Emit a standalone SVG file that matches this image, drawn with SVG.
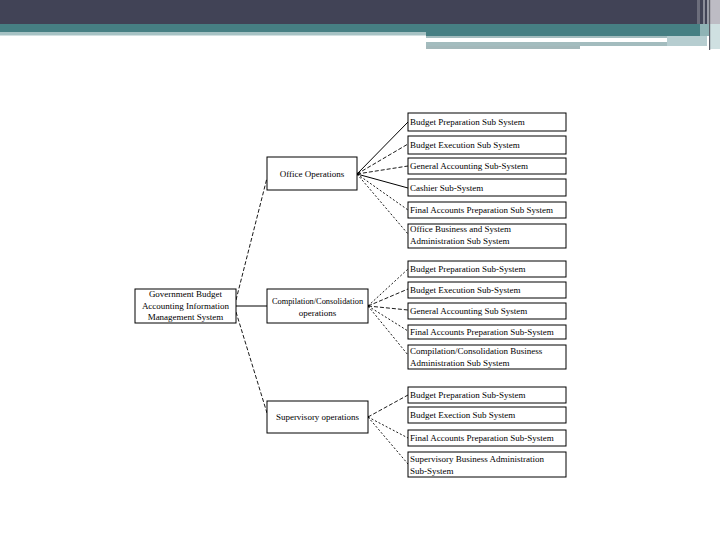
<svg xmlns="http://www.w3.org/2000/svg" width="720" height="540" viewBox="0 0 720 540">
<style>
.box{fill:#ffffff;stroke:#000000;stroke-width:1}
.t{font-family:"Liberation Serif","Times New Roman",serif;font-size:9px;fill:#000000}
.tc{font-family:"Liberation Serif","Times New Roman",serif;font-size:9px;fill:#000000;text-anchor:middle}
.solid{stroke:#000000;stroke-width:1;fill:none}
.dash{stroke:#000000;stroke-width:0.9;fill:none;stroke-dasharray:4,2}
.dot{stroke:#000000;stroke-width:0.9;fill:none;stroke-dasharray:2,2}
</style>
<rect x="0" y="0" width="720" height="540" fill="#ffffff"/>
<g id="header">
<rect x="0" y="0" width="720" height="24" fill="#414356"/>
<rect x="0" y="24" width="720" height="8" fill="#467f83"/>
<rect x="0" y="32" width="426" height="3.5" fill="#a6c2c4"/>
<rect x="426" y="32" width="294" height="4" fill="#467f83"/>
<rect x="426" y="36" width="281" height="10" fill="#a3bcbe"/>
<rect x="426" y="38" width="241" height="4" fill="#ffffff"/>
<rect x="426" y="46" width="154" height="3" fill="#a3b8ba"/>
<rect x="667" y="36" width="40" height="10" fill="#b6cdd0"/>
<rect x="697" y="0" width="3" height="24" fill="#6c6e7c"/>
<rect x="703" y="0" width="2" height="24" fill="#8a8c98"/>
<rect x="707" y="0" width="2" height="24" fill="#9a9ca6"/>
<rect x="710" y="0" width="10" height="24" fill="#bdbcc4"/>
<rect x="700" y="24" width="10" height="12" fill="#8fb3b5"/>
<rect x="710" y="24" width="10" height="25" fill="#cfe0e1"/>
<rect x="709" y="0" width="1.2" height="50" fill="#5a5c66"/>
</g>
<g id="connectors">
<line class="solid" x1="236" y1="306" x2="267" y2="306"/>
<line class="dash" x1="236" y1="300" x2="267" y2="178"/>
<line class="dash" x1="236" y1="312" x2="267" y2="413"/>
<line class="solid" x1="357" y1="174" x2="408" y2="122"/>
<line class="dash" x1="357" y1="174" x2="408" y2="144"/>
<line class="dash" x1="357" y1="174" x2="408" y2="166"/>
<line class="solid" x1="357" y1="174" x2="408" y2="188"/>
<line class="dot" x1="357" y1="174" x2="408" y2="210"/>
<line class="dot" x1="357" y1="174" x2="408" y2="234"/>
<circle cx="357" cy="174" r="1.5" fill="#000000"/>
<line class="dot" x1="368" y1="306" x2="408" y2="269"/>
<line class="dash" x1="368" y1="306" x2="408" y2="289"/>
<line class="dash" x1="368" y1="306" x2="408" y2="310"/>
<line class="dot" x1="368" y1="306" x2="408" y2="331"/>
<line class="dot" x1="368" y1="306" x2="408" y2="355"/>
<circle cx="368" cy="306" r="1.5" fill="#000000"/>
<line class="dash" x1="368" y1="417" x2="408" y2="395"/>
<line class="dot" x1="368" y1="417" x2="408" y2="438"/>
<line class="dot" x1="368" y1="417" x2="408" y2="464"/>
<circle cx="368" cy="417" r="1.2" fill="#000000"/>
</g>
<g id="root">
<rect class="box" x="135" y="289" width="101" height="34"/>
<text class="tc" x="185.5" y="297">Government Budget</text>
<text class="tc" x="185.5" y="309">Accounting Information</text>
<text class="tc" x="185.5" y="320">Management System</text>
</g>
<g id="office">
<rect class="box" x="267" y="157" width="90" height="33"/>
<text class="tc" x="312" y="177">Office Operations</text>
</g>
<g id="compilation">
<rect class="box" x="267" y="289" width="101" height="34"/>
<text class="tc" x="317.5" y="304" style="font-size:8.4px">Compilation/Consolidation</text>
<text class="tc" x="317.5" y="316">operations</text>
</g>
<g id="supervisory">
<rect class="box" x="267" y="401" width="101" height="32"/>
<text class="tc" x="317.5" y="420">Supervisory operations</text>
</g>
<g id="o1"><rect class="box" x="408" y="113" width="158" height="18"/><text class="t" x="410" y="125">Budget Preparation Sub System</text></g>
<g id="o2"><rect class="box" x="408" y="136" width="158" height="18"/><text class="t" x="410" y="148">Budget Execution Sub System</text></g>
<g id="o3"><rect class="box" x="408" y="158" width="158" height="16"/><text class="t" x="410" y="169">General Accounting Sub-System</text></g>
<g id="o4"><rect class="box" x="408" y="179" width="158" height="17"/><text class="t" x="410" y="191">Cashier Sub-System</text></g>
<g id="o5"><rect class="box" x="408" y="202" width="158" height="16"/><text class="t" x="410" y="213">Final Accounts Preparation Sub System</text></g>
<g id="o6"><rect class="box" x="408" y="224" width="158" height="24"/><text class="t" x="410" y="232">Office Business and System</text><text class="t" x="410" y="244">Administration Sub System</text></g>
<g id="c1"><rect class="box" x="408" y="261" width="158" height="16"/><text class="t" x="410" y="272">Budget Preparation Sub-System</text></g>
<g id="c2"><rect class="box" x="408" y="282" width="158" height="16"/><text class="t" x="410" y="293">Budget Execution Sub-System</text></g>
<g id="c3"><rect class="box" x="408" y="303" width="158" height="16"/><text class="t" x="410" y="314">General Accounting Sub System</text></g>
<g id="c4"><rect class="box" x="408" y="325" width="158" height="14"/><text class="t" x="410" y="335">Final Accounts Preparation Sub-System</text></g>
<g id="c5"><rect class="box" x="408" y="345" width="158" height="24"/><text class="t" x="410" y="354">Compilation/Consolidation Business</text><text class="t" x="410" y="366">Administration Sub System</text></g>
<g id="s1"><rect class="box" x="408" y="387" width="158" height="16"/><text class="t" x="410" y="398">Budget Preparation Sub-System</text></g>
<g id="s2"><rect class="box" x="408" y="407" width="158" height="16"/><text class="t" x="410" y="418">Budget Exection Sub System</text></g>
<g id="s3"><rect class="box" x="408" y="430" width="158" height="16"/><text class="t" x="410" y="441">Final Accounts Preparation Sub-System</text></g>
<g id="s4"><rect class="box" x="408" y="452" width="158" height="25"/><text class="t" x="410" y="462">Supervisory Business Administration</text><text class="t" x="410" y="474">Sub-System</text></g>
</svg>
